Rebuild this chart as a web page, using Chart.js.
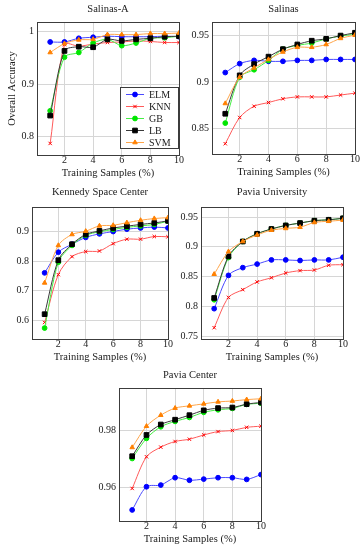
<!DOCTYPE html>
<html><head><meta charset="utf-8">
<script src="https://cdn.jsdelivr.net/npm/chart.js@4.4.1/dist/chart.umd.min.js"></script>
<style>
html,body{margin:0;padding:0;background:#fff;}
#wrap{position:relative;width:362px;height:550px;overflow:hidden;background:#fff;}
#wrap canvas{position:absolute;}
</style></head><body><div id="wrap"></div>
<script>
// ---------- data ----------
const trainingSamples = [1, 2, 3, 4, 5, 6, 7, 8, 9, 10];
const methodNames = ['ELM', 'KNN', 'GB', 'LB', 'SVM'];
const xTickValues = [2, 4, 6, 8, 10];
const xAxisTitle = 'Training Samples (%)';
const yAxisTitle = 'Overall Accuracy';
const panelTitles = ['Salinas-A', 'Salinas', 'Kennedy Space Center', 'Pavia University', 'Pavia Center'];

// Salinas-A
const salinasA_ELM = [0.980, 0.980, 0.987, 0.989, 0.991, 0.990, 0.990, 0.990, 0.991, 0.990];
const salinasA_KNN = [0.787, 0.975, 0.972, 0.976, 0.979, 0.980, 0.982, 0.981, 0.979, 0.979];
const salinasA_GB  = [0.849, 0.951, 0.960, 0.978, 0.985, 0.973, 0.978, 0.987, 0.988, 0.991];
const salinasA_LB  = [0.840, 0.963, 0.971, 0.970, 0.985, 0.982, 0.985, 0.987, 0.990, 0.991];
const salinasA_SVM = [0.960, 0.977, 0.984, 0.985, 0.994, 0.994, 0.994, 0.996, 0.996, 0.997];
const salinasATicks = [0.8, 0.9, 1];

// Salinas
const salinas_ELM = [0.910, 0.9195, 0.923, 0.922, 0.922, 0.923, 0.923, 0.924, 0.924, 0.924];
const salinas_KNN = [0.834, 0.862, 0.874, 0.878, 0.882, 0.884, 0.884, 0.884, 0.886, 0.888];
const salinas_GB  = [0.856, 0.905, 0.913, 0.923, 0.935, 0.939, 0.9415, 0.946, 0.949, 0.951];
const salinas_LB  = [0.866, 0.907, 0.919, 0.927, 0.935, 0.940, 0.944, 0.946, 0.9495, 0.9525];
const salinas_SVM = [0.877, 0.905, 0.915, 0.924, 0.932, 0.937, 0.937, 0.940, 0.9465, 0.950];
const salinasTicks = [0.85, 0.9, 0.95];

// Kennedy Space Center
const ksc_ELM = [0.761, 0.831, 0.858, 0.881, 0.893, 0.901, 0.909, 0.913, 0.916, 0.913];
const ksc_KNN = [0.593, 0.755, 0.816, 0.833, 0.835, 0.860, 0.875, 0.875, 0.884, 0.883];
const ksc_GB  = [0.574, 0.797, 0.854, 0.888, 0.900, 0.908, 0.915, 0.920, 0.925, 0.936];
const ksc_LB  = [0.621, 0.804, 0.858, 0.891, 0.903, 0.913, 0.919, 0.925, 0.930, 0.937];
const ksc_SVM = [0.727, 0.854, 0.891, 0.902, 0.920, 0.922, 0.931, 0.939, 0.945, 0.948];
const kscTicks = [0.6, 0.7, 0.8, 0.9];

// Pavia University
const paviaU_ELM = [0.796, 0.852, 0.865, 0.871, 0.878, 0.878, 0.877, 0.878, 0.878, 0.8825];
const paviaU_KNN = [0.764, 0.815, 0.828, 0.841, 0.848, 0.856, 0.860, 0.861, 0.869, 0.870];
const paviaU_GB  = [0.811, 0.882, 0.909, 0.922, 0.930, 0.936, 0.940, 0.944, 0.9455, 0.948];
const paviaU_LB  = [0.814, 0.884, 0.909, 0.922, 0.930, 0.936, 0.940, 0.944, 0.9455, 0.948];
const paviaU_SVM = [0.854, 0.892, 0.909, 0.920, 0.928, 0.931, 0.933, 0.941, 0.943, 0.945];
const paviaUTicks = [0.75, 0.8, 0.85, 0.9, 0.95];

// Pavia Center
const paviaC_ELM = [0.9519, 0.9601, 0.9607, 0.9633, 0.9624, 0.9628, 0.9633, 0.9633, 0.9627, 0.9644];
const paviaC_KNN = [0.9595, 0.9707, 0.9741, 0.9761, 0.9769, 0.9784, 0.9796, 0.9800, 0.9811, 0.9815];
const paviaC_GB  = [0.9701, 0.9772, 0.9813, 0.9832, 0.9846, 0.9864, 0.9873, 0.9878, 0.9892, 0.9896];
const paviaC_LB  = [0.9709, 0.9784, 0.9821, 0.9838, 0.9854, 0.9871, 0.9879, 0.9881, 0.9893, 0.9899];
const paviaC_SVM = [0.9740, 0.9815, 0.9854, 0.9879, 0.9887, 0.9894, 0.9901, 0.9904, 0.9909, 0.9912];
const paviaCTicks = [0.96, 0.98];

// ---------- styles ----------
const FONT = '"Liberation Serif", "DejaVu Serif", serif';
const TEXT = '#1a1a1a';
const methodStyles = [
  {line: '#4a4aff', mark: '#0000ff', shape: 'circle',   r: 2.4, bw: 1},
  {line: '#ff5a5a', mark: '#ff0000', shape: 'crossRot', r: 2.4, bw: 1},
  {line: '#45ee45', mark: '#00e600', shape: 'circle',   r: 2.4, bw: 1},
  {line: '#3a3a3a', mark: '#000000', shape: 'rect',     r: 3.3, bw: 1},
  {line: '#ffa54a', mark: '#ff8000', shape: 'triangle', r: 2.6, bw: 1}
];

const panels = [
  {title: panelTitles[0], series: [salinasA_ELM, salinasA_KNN, salinasA_GB, salinasA_LB, salinasA_SVM],
   yMin: 0.765, yMax: 1.018, yTicks: salinasATicks, l: 37, r: 179, t: 22, b: 155, wy: 36, yTitle: true, legend: true, titleOff: 12.5},
  {title: panelTitles[1], series: [salinas_ELM, salinas_KNN, salinas_GB, salinas_LB, salinas_SVM],
   yMin: 0.823, yMax: 0.964, yTicks: salinasTicks, l: 212, r: 355, t: 22, b: 154, wy: 30, titleOff: 12.5},
  {title: panelTitles[2], series: [ksc_ELM, ksc_KNN, ksc_GB, ksc_LB, ksc_SVM],
   yMin: 0.537, yMax: 0.984, yTicks: kscTicks, l: 32, r: 168, t: 207, b: 339, wy: 30, titleOff: 14.5},
  {title: panelTitles[3], series: [paviaU_ELM, paviaU_KNN, paviaU_GB, paviaU_LB, paviaU_SVM],
   yMin: 0.745, yMax: 0.967, yTicks: paviaUTicks, l: 201, r: 343, t: 207, b: 339, wy: 30, titleOff: 14.5},
  {title: panelTitles[4], series: [paviaC_ELM, paviaC_KNN, paviaC_GB, paviaC_LB, paviaC_SVM],
   yMin: 0.948, yMax: 0.995, yTicks: paviaCTicks, l: 119, r: 261, t: 388, b: 521, wy: 30, titleOff: 13}
];

const fmt = v => String(Math.round(v * 100) / 100);

const framePlugin = {
  id: 'frame',
  beforeDatasetsDraw(chart) {
    const {ctx, chartArea: a} = chart;
    ctx.save();
    ctx.strokeStyle = '#3c3c3c';
    ctx.lineWidth = 1;
    ctx.strokeRect(Math.round(a.left) + 0.5, Math.round(a.top) + 0.5, Math.round(a.right - a.left), Math.round(a.bottom - a.top));
    ctx.restore();
  }
};

function titlePlugin(text, off) {
  return {
    id: 'panelTitle',
    afterDraw(chart) {
      const {ctx, chartArea: a} = chart;
      ctx.save();
      ctx.font = '10.5px ' + FONT;
      ctx.fillStyle = TEXT;
      ctx.textAlign = 'center';
      ctx.textBaseline = 'middle';
      ctx.fillText(text, (a.left + a.right) / 2, a.top - off);
      ctx.restore();
    }
  };
}

const insideLegend = {
  id: 'insideLegend',
  afterDatasetsDraw(chart) {
    const {ctx, chartArea: a} = chart;
    const w = 58, h = 61;
    const x0 = Math.round(a.right - 1 - w), y0 = Math.round(a.bottom - 7 - h);
    ctx.save();
    ctx.fillStyle = '#fff';
    ctx.fillRect(x0, y0, w, h);
    ctx.strokeStyle = '#3c3c3c';
    ctx.lineWidth = 1;
    ctx.strokeRect(x0 + 0.5, y0 + 0.5, w, h);
    chart.data.datasets.forEach((ds, i) => {
      const y = y0 + 7.5 + i * 12;
      ctx.strokeStyle = ds.borderColor;
      ctx.lineWidth = 1;
      ctx.beginPath();
      ctx.moveTo(x0 + 6, y);
      ctx.lineTo(x0 + 24, y);
      ctx.stroke();
      ctx.fillStyle = ds.pointBackgroundColor;
      ctx.strokeStyle = ds.pointBorderColor;
      Chart.helpers.drawPoint(ctx, {pointStyle: ds.pointStyle, radius: ds.pointRadius, borderWidth: ds.pointBorderWidth, rotation: 0}, x0 + 15, y);
      ctx.fillStyle = TEXT;
      ctx.font = '10px ' + FONT;
      ctx.textAlign = 'left';
      ctx.textBaseline = 'middle';
      ctx.fillText(ds.label, x0 + 29, y + 0.5);
    });
    ctx.restore();
  }
};

const wrap = document.getElementById('wrap');

panels.forEach(p => {
  const plotW = p.r - p.l, plotH = p.b - p.t;
  const W = p.wy + plotW + 12, H = 22 + plotH + 26;
  const cv = document.createElement('canvas');
  cv.width = W; cv.height = H;
  cv.style.width = W + 'px'; cv.style.height = H + 'px';
  cv.style.left = (p.l - p.wy) + 'px';
  cv.style.top = (p.t - 22) + 'px';
  wrap.appendChild(cv);

  const datasets = methodNames.map((name, i) => {
    const s = methodStyles[i];
    return {
      label: name,
      data: trainingSamples.map((x, j) => ({x: x, y: p.series[i][j]})),
      borderColor: s.line,
      backgroundColor: s.mark,
      borderWidth: 1,
      tension: 0.3,
      fill: false,
      pointStyle: s.shape,
      pointRadius: s.r,
      pointHoverRadius: s.r,
      pointBackgroundColor: s.mark,
      pointBorderColor: s.mark,
      pointBorderWidth: s.bw,
      order: methodNames.length - i
    };
  });

  const plugins = [framePlugin, titlePlugin(p.title, p.titleOff)];
  if (p.legend) plugins.push(insideLegend);

  new Chart(cv, {
    type: 'line',
    data: {datasets: datasets},
    options: {
      responsive: false,
      animation: false,
      devicePixelRatio: 1,
      layout: {padding: {top: 22, right: 12, left: 0, bottom: 0}},
      plugins: {legend: {display: false}, tooltip: {enabled: false}, title: {display: false}},
      scales: {
        x: {
          type: 'linear', min: 0.08, max: 10,
          afterBuildTicks: s => { s.ticks = xTickValues.map(v => ({value: v})); },
          afterFit: s => { s.height = 26; },
          grid: {color: '#d6d6d6', drawTicks: false, lineWidth: 1},
          border: {display: false},
          ticks: {autoSkip: false, padding: 0, color: TEXT, font: {family: FONT, size: 10, lineHeight: 1}, callback: v => fmt(v), maxRotation: 0},
          title: {display: true, text: xAxisTitle, color: TEXT, font: {family: FONT, size: 10.5, lineHeight: 1.2}, padding: {top: 0, bottom: 1}}
        },
        y: {
          type: 'linear', min: p.yMin, max: p.yMax,
          afterBuildTicks: s => { s.ticks = p.yTicks.map(v => ({value: v})); },
          afterFit: s => { s.width = p.wy; },
          grid: {color: '#d6d6d6', drawTicks: false, lineWidth: 1},
          border: {display: false},
          ticks: {autoSkip: false, padding: 3, color: TEXT, font: {family: FONT, size: 10, lineHeight: 1.2}, callback: v => fmt(v)},
          title: {display: !!p.yTitle, text: yAxisTitle, color: TEXT, font: {family: FONT, size: 10.5, lineHeight: 1.2}, padding: {top: 5, bottom: 0}}
        }
      }
    },
    plugins: plugins
  });
});
</script>
</body></html>
